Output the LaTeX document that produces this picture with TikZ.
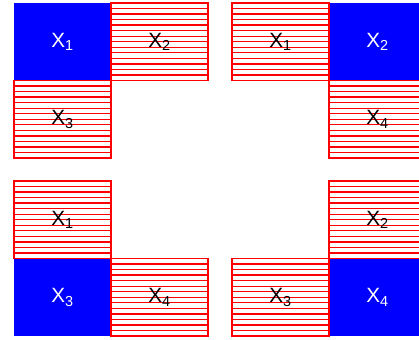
\documentclass[tikz,border=0pt]{standalone}
\usepackage{fontspec}
\setmainfont{Liberation Sans}
\usetikzlibrary{calc}
\usetikzlibrary{positioning}
\usetikzlibrary{backgrounds}

\tikzset{
    box/.style={rectangle, minimum width=72.75pt, minimum height=58.125pt,
        inner sep=0pt, outer sep=0pt, font=\fontsize{15.5}{16}\selectfont},
    bluebox/.style={box, fill=blue, text=white},
    hatchbox/.style={box, draw=red, line width=1pt},
    hatchline/.style={red, line width=1pt},
}
\newcommand{\xlbl}[1]{X\textsubscript{#1}}

\begin{document}
\begin{tikzpicture}[x=0.75pt, y=0.75pt]
    % 1. Fix the frame (the right column runs off the edge)
    \clip (0,0) rectangle (419,340);

    % 2. Top left: X1 shaded, X2 and X3 hatched
    \node[bluebox] (a1) at (62.5,298.25) {\xlbl{1}};
    \node[hatchbox, right=0pt of a1] (a2) {\xlbl{2}};
    \node[hatchbox, below=0pt of a1] (a3) {\xlbl{3}};

    % 3. Top right: X2 shaded, X1 and X4 hatched
    \node[bluebox] (b2) at (377.5,298.25) {\xlbl{2}};
    \node[hatchbox, left=0pt of b2] (b1) {\xlbl{1}};
    \node[hatchbox, below=0pt of b2] (b4) {\xlbl{4}};

    % 4. Bottom left: X3 shaded, X1 and X4 hatched
    \node[bluebox] (c3) at (62.5,42.75) {\xlbl{3}};
    \node[hatchbox, above=0pt of c3] (c1) {\xlbl{1}};
    \node[hatchbox, right=0pt of c3] (c4) {\xlbl{4}};

    % 5. Bottom right: X4 shaded, X2 and X3 hatched
    \node[bluebox] (d4) at (377.5,42.75) {\xlbl{4}};
    \node[hatchbox, above=0pt of d4] (d2) {\xlbl{2}};
    \node[hatchbox, left=0pt of d4] (d3) {\xlbl{3}};

    % 6. Horizontal hatching behind the hatched boxes
    \begin{scope}[on background layer]
        \foreach \n in {a2, a3, b1, b4, c1, c4, d2, d3} {
            \foreach \k in {1,...,13} {
                \draw[hatchline] ($(\n.south west)!\k/14!(\n.north west)$) -- ($(\n.south east)!\k/14!(\n.north east)$);
            }
        }
    \end{scope}
\end{tikzpicture}
\end{document}
